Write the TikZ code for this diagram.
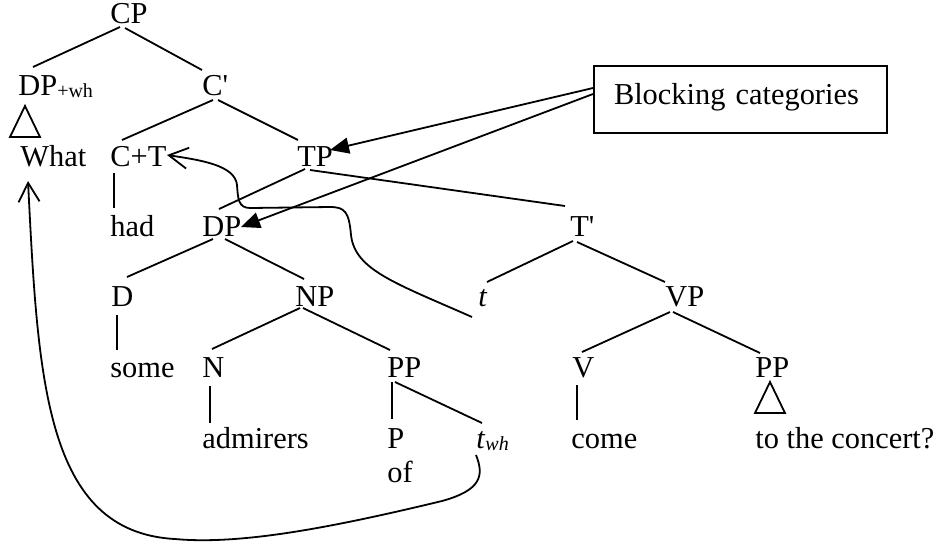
\documentclass[tikz,border=0pt]{standalone}
\usepackage{fontspec}
\setmainfont{Liberation Serif}[Ligatures=TeXOff]
\usetikzlibrary{arrows.meta}

\begin{document}
\begin{tikzpicture}[x=0.5pt,y=-0.5pt,
  lbl/.style={anchor=base west, inner sep=0pt, font=\fontsize{15.2}{18}\selectfont},
  branch/.style={line width=0.9pt},
  roof/.style={line width=0.9pt, line join=miter},
  movearrow/.style={line width=0.9pt, -{Straight Barb[length=9.5pt,width=10.5pt]}},
  pointer/.style={line width=0.9pt, -{Triangle[length=9.5pt,width=8pt]}},
  callout/.style={draw, line width=1pt, anchor=west, inner xsep=10pt, inner ysep=0pt,
    minimum height=33.5pt, text width=126.5pt, align=left,
    text height=10.3pt, text depth=5.8pt, font=\fontsize{15.2}{18}\selectfont}
]
\newcommand{\subtxt}[1]{{\fontsize{10}{12}\selectfont\raisebox{-1pt}{#1}}}
\useasboundingbox (0,0) rectangle (942,542);

% labels of the tree
\node[lbl] (CP)    at (110,23)  {CP};
\node[lbl] (DPwh)  at (18,95)   {DP\subtxt{+wh}};
\node[lbl] (Cbar)  at (202,95)  {C\textquotesingle};
\node[lbl] (What)  at (20,166)  {What};
\node[lbl] (CT)    at (110,166) {C+T};
\node[lbl] (TP)    at (297,166) {TP};
\node[lbl] (had)   at (110,236) {had};
\node[lbl] (DP)    at (202,236) {DP};
\node[lbl] (Tbar)  at (570,236) {T\textquotesingle};
\node[lbl] (D)     at (111,306) {D};
\node[lbl] (NP)    at (295,306) {NP};
\node[lbl] (t)     at (478,306) {\textit{t}};
\node[lbl] (VP)    at (665,306) {VP};
\node[lbl] (some)  at (110,377) {some};
\node[lbl] (N)     at (202,377) {N};
\node[lbl] (PPa)   at (387,377) {PP};
\node[lbl] (V)     at (572,377) {V};
\node[lbl] (PPb)   at (755,377) {PP};
\node[lbl] (admirers) at (202,448) {admirers};
\node[lbl] (P)     at (387,448) {P};
\node[lbl] (twh)   at (476,448) {\textit{t}\subtxt{\textit{wh}}};
\node[lbl] (come)  at (571,448) {come};
\node[lbl] (concert) at (755,448) {to the concert?};
\node[lbl] (of)    at (387,482) {of};

% callout box
\node[callout] (block) at (593,99.5) {Blocking categories};

% branches
\draw[branch] ([shift={(10,4)}]CP.base west) -- ([shift={(15,-28)}]DPwh.base west);
\draw[branch] ([shift={(15,5)}]CP.base west) -- ([shift={(0,-25)}]Cbar.base west);
\draw[branch] ([shift={(11,5)}]Cbar.base west) -- ([shift={(12,-26)}]CT.base west);
\draw[branch] ([shift={(16,5)}]Cbar.base west) -- ([shift={(1,-26)}]TP.base west);
\draw[branch] ([shift={(4,7)}]CT.base west) -- ([shift={(4,-28)}]had.base west);
\draw[branch] ([shift={(8,3)}]TP.base west) -- ([shift={(17,-27)}]DP.base west);
\draw[branch] ([shift={(13,4)}]TP.base west) -- ([shift={(-5,-30)}]Tbar.base west);
\draw[branch] ([shift={(11,3)}]DP.base west) -- ([shift={(16,-29)}]D.base west);
\draw[branch] ([shift={(23,3)}]DP.base west) -- ([shift={(9,-27)}]NP.base west);
\draw[branch] ([shift={(3,5)}]Tbar.base west) -- ([shift={(9,-24)}]t.base west);
\draw[branch] ([shift={(7,6)}]Tbar.base west) -- ([shift={(0,-24)}]VP.base west);
\draw[branch] ([shift={(6,9)}]D.base west) -- ([shift={(7,-27)}]some.base west);
\draw[branch] ([shift={(5,2)}]NP.base west) -- ([shift={(10,-28)}]N.base west);
\draw[branch] ([shift={(8,2)}]NP.base west) -- ([shift={(3,-27)}]PPa.base west);
\draw[branch] ([shift={(5,6)}]VP.base west) -- ([shift={(10,-25)}]V.base west);
\draw[branch] ([shift={(8,6)}]VP.base west) -- ([shift={(5,-24)}]PPb.base west);
\draw[branch] ([shift={(8,9)}]N.base west) -- ([shift={(8,-25)}]admirers.base west);
\draw[branch] ([shift={(5,5)}]PPa.base west) -- ([shift={(5,-29)}]P.base west);
\draw[branch] ([shift={(8,5)}]PPa.base west) -- ([shift={(6,-25)}]twh.base west);
\draw[branch] ([shift={(5,8)}]V.base west) -- ([shift={(6,-28)}]come.base west);

% roofs over unanalysed phrases
\draw[roof] ([shift={(7,11)}]DPwh.base west) -- ([shift={(-8,42)}]DPwh.base west)
  -- ([shift={(22,42)}]DPwh.base west) -- cycle;
\draw[roof] ([shift={(15,5)}]PPb.base west) -- ([shift={(0,36)}]PPb.base west)
  -- ([shift={(30,36)}]PPb.base west) -- cycle;

% head movement of T to C
\draw[movearrow] ([shift={(-6,11)}]t.base west)
  .. controls (395,283) and (355,270) .. (351,235)
  .. controls (349,212) and (345,207) .. (330,207)
  -- (250,208)
  .. controls (238,208) and (238,198) .. (237,185)
  .. controls (235,165) and (200,160) .. ([shift={(57,-11)}]CT.base west);

% wh-movement to the specifier of CP
\draw[movearrow] ([shift={(0,7)}]twh.base west)
  .. controls (484,475) and (482,490) .. (442,501)
  .. controls (330,528) and (240,545) .. (175,539)
  .. controls (45,532) and (38,380) .. ([shift={(8,15)}]What.base west);

% pointers from the callout
\draw[pointer] ([shift={(0,-11.5)}]block.west) -- ([shift={(33,-16)}]TP.base west);
\draw[pointer] ([shift={(0,-5.5)}]block.west) -- ([shift={(39,-9)}]DP.base west);
\end{tikzpicture}
\end{document}
